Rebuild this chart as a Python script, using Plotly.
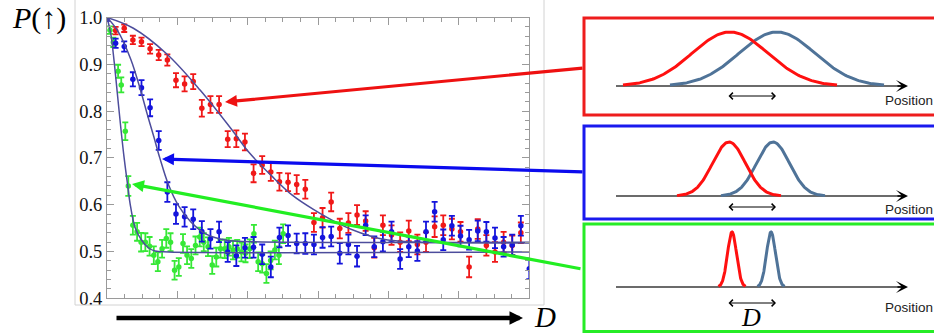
import math
import plotly.graph_objects as go

# ---------------- data ----------------
# x positions in axis units (axis runs 0..24, one minor tick per unit)
step_x = [0.00, 0.49, 0.98, 1.47, 1.96, 2.45, 2.94, 3.43, 3.92, 4.41,
          4.90, 5.39, 5.88, 6.37, 6.86, 7.35, 7.84, 8.33, 8.82, 9.31,
          9.80, 10.29, 10.78, 11.27, 11.76, 12.25, 12.74, 13.23, 13.72, 14.21,
          14.70, 15.19, 15.68, 16.17, 16.66, 17.15, 17.64, 18.13, 18.62, 19.11,
          19.60, 20.09, 20.58, 21.07, 21.56, 22.05, 22.54, 23.03, 23.52, 24.00]

red_x = step_x[1:49]
red_y = [0.972, 0.977, 0.952, 0.948, 0.933, 0.920, 0.909, 0.866, 0.858, 0.863,
         0.806, 0.814, 0.814, 0.740, 0.741, 0.734, 0.667, 0.685, 0.670, 0.649,
         0.648, 0.643, 0.633, 0.562, 0.572, 0.606, 0.549, 0.561, 0.578, 0.565,
         0.508, 0.556, 0.535, 0.520, 0.544, 0.515, 0.520, 0.553, 0.556, 0.548,
         0.542, 0.467, 0.548, 0.513, 0.499, 0.520, 0.513, 0.540]
red_err = [0.008, 0.008, 0.009, 0.009, 0.010, 0.011, 0.012, 0.015, 0.016, 0.016,
           0.018, 0.018, 0.018, 0.017, 0.018, 0.018, 0.019, 0.019, 0.019, 0.019,
           0.019, 0.020, 0.020, 0.020, 0.021, 0.020, 0.021, 0.021, 0.021, 0.021,
           0.021, 0.021, 0.021, 0.021, 0.022, 0.021, 0.021, 0.022, 0.021, 0.022,
           0.021, 0.022, 0.021, 0.022, 0.021, 0.022, 0.021, 0.022]

blue_x = step_x[0:50]
blue_y = [0.997, 0.945, 0.938, 0.868, 0.850, 0.807, 0.737, 0.627, 0.580, 0.574,
          0.569, 0.543, 0.527, 0.542, 0.499, 0.491, 0.508, 0.509, 0.494, 0.467,
          0.530, 0.534, 0.517, 0.517, 0.515, 0.530, 0.532, 0.496, 0.515, 0.490,
          0.556, 0.510, 0.521, 0.542, 0.484, 0.510, 0.501, 0.542, 0.585, 0.525,
          0.555, 0.533, 0.525, 0.544, 0.542, 0.529, 0.510, 0.514, 0.555, 0.463]
blue_err = [0.004, 0.010, 0.011, 0.015, 0.016, 0.018, 0.020, 0.021, 0.021, 0.021,
            0.021, 0.022, 0.021, 0.022, 0.021, 0.022, 0.021, 0.022, 0.021, 0.022,
            0.021, 0.022, 0.021, 0.022, 0.021, 0.022, 0.021, 0.022, 0.021, 0.022,
            0.021, 0.022, 0.021, 0.022, 0.021, 0.022, 0.021, 0.022, 0.021, 0.022,
            0.021, 0.022, 0.021, 0.022, 0.021, 0.022, 0.021, 0.022, 0.021, 0.022]

green_x = [0.17, 0.36, 0.63, 0.81, 1.04, 1.21,
           1.47, 1.71, 1.94, 2.18, 2.42, 2.66, 2.89, 3.13, 3.37, 3.61,
           3.84, 4.08, 4.32, 4.55, 4.79, 5.03, 5.27, 5.50, 5.74, 5.98,
           6.21, 6.45, 6.69, 6.93, 7.16, 7.40, 7.64, 7.87, 8.11, 8.35,
           8.59, 8.82, 9.06, 9.30, 9.54, 9.77, 10.01]
green_y = [0.973, 0.947, 0.885, 0.856, 0.757, 0.640,
           0.556, 0.542, 0.520, 0.520, 0.511, 0.492, 0.478, 0.506, 0.528, 0.520,
           0.460, 0.467, 0.517, 0.492, 0.485, 0.513, 0.531, 0.520, 0.510, 0.471,
           0.488, 0.506, 0.506, 0.510, 0.503, 0.506, 0.499, 0.496, 0.506, 0.538,
           0.478, 0.474, 0.453, 0.481, 0.503, 0.492, 0.538]
green_err = [0.008, 0.010, 0.014, 0.016, 0.019, 0.021,
             0.020, 0.019, 0.020, 0.019, 0.020, 0.019, 0.020, 0.019, 0.020, 0.019,
             0.020, 0.019, 0.020, 0.019, 0.020, 0.019, 0.020, 0.019, 0.020, 0.019,
             0.020, 0.019, 0.020, 0.019, 0.020, 0.019, 0.020, 0.019, 0.020, 0.019,
             0.020, 0.019, 0.020, 0.019, 0.020, 0.019, 0.020]

# fitted curves
red_fit_x = [0, 1.5, 3.4, 5.29, 7.18, 8.04, 9.37, 10.51, 11.73, 13.25, 14.39, 15.72, 17.0, 19.0, 24.0]
red_fit_y = [1.0, 0.977, 0.922, 0.845, 0.756, 0.713, 0.661, 0.621, 0.590, 0.558, 0.540, 0.526, 0.521, 0.519, 0.518]
blue_fit_x = [0, 0.6, 1.35, 1.92, 2.29, 2.67, 3.0, 3.49, 4.06, 4.77, 5.63, 6.8, 8.1, 24.0]
blue_fit_y = [1.0, 0.972, 0.911, 0.843, 0.793, 0.744, 0.700, 0.643, 0.598, 0.563, 0.537, 0.524, 0.521, 0.520]
green_fit_x = [0, 0.21, 0.40, 0.59, 0.78, 0.97, 1.19, 1.31, 1.59, 1.97, 2.35, 2.73, 3.5, 24.0]
green_fit_y = [1.0, 0.966, 0.908, 0.837, 0.766, 0.701, 0.637, 0.603, 0.552, 0.524, 0.508, 0.501, 0.499, 0.499]

y_ticks = [0.4, 0.5, 0.6, 0.7, 0.8, 0.9, 1.0]
y_tick_text = ["0.4", "0.5", "0.6", "0.7", "0.8", "0.9", "1.0"]

# ---------------- styles / layout constants ----------------
W, H = 934, 333
RED, BLUE, GREEN = "#f01818", "#1414dc", "#36e836"
FIT = "#4d4d9c"
AXC = "#9a9a9a"
SERIF = "Liberation Serif, Times New Roman, serif"
SANS = "Liberation Sans, Arial, sans-serif"

fig = go.Figure()


def data_trace(x, y, e, color):
    return go.Scatter(x=x, y=y, mode="markers", xaxis="x", yaxis="y",
                      marker=dict(size=5.5, color=color),
                      error_y=dict(type="data", array=e, visible=True, color=color,
                                   thickness=1.8, width=3),
                      showlegend=False, hoverinfo="skip")


fig.add_trace(data_trace(green_x, green_y, green_err, GREEN))
fig.add_trace(data_trace(red_x, red_y, red_err, RED))
fig.add_trace(data_trace(blue_x, blue_y, blue_err, BLUE))
for fx, fy in [(green_fit_x, green_fit_y), (blue_fit_x, blue_fit_y), (red_fit_x, red_fit_y)]:
    fig.add_trace(go.Scatter(x=fx, y=fy, mode="lines", xaxis="x", yaxis="y",
                             line=dict(color=FIT, width=1.5, shape="spline", smoothing=1.0),
                             showlegend=False, hoverinfo="skip"))

# ---------------- schematic panels (pixel canvas on x2/y2) ----------------
panel_base = [86, 196, 287]
panel_height = [54, 54, 55]
panel_sigma = [38, 16.5, 4.5]
panel_span = [107, 52, 13.5]
panel_red_c = [730, 729, 732]
panel_blue_c = [777, 773, 771]
GAUSS_BLUE = "#4f7398"

for i in range(3):
    for c, col in [(panel_blue_c[i], GAUSS_BLUE), (panel_red_c[i], "#ff1010")]:
        n = 161
        xs = [c - panel_span[i] + 2 * panel_span[i] * k / (n - 1) for k in range(n)]
        ys = [panel_base[i] - panel_height[i] * math.exp(-0.5 * ((xv - c) / panel_sigma[i]) ** 2) for xv in xs]
        fig.add_trace(go.Scatter(x=xs, y=ys, mode="lines", xaxis="x2", yaxis="y2",
                                 line=dict(color=col, width=3), showlegend=False, hoverinfo="skip"))

shapes = []
# light grey image frame around the plot
shapes.append(dict(type="rect", xref="x2", yref="y2", x0=75, x1=544, y0=-5, y1=305,
                   line=dict(color="#d2d2d2", width=1), layer="below"))
# panel boxes
for (y0, y1, col) in [(18, 115, "#ee1c1c"), (126, 219, "#1a1aee"), (224, 331.5, "#26ec26")]:
    shapes.append(dict(type="rect", xref="x2", yref="y2", x0=584, x1=945, y0=y0, y1=y1,
                       line=dict(color=col, width=3)))
# panel position axes (line part)
for yb in panel_base:
    shapes.append(dict(type="line", xref="x2", yref="y2", x0=616, x1=902, y0=yb, y1=yb,
                       line=dict(color="#3a3a3a", width=1.6), layer="below"))

ann = []
# arrowheads of the panel axes
for yb in panel_base:
    ann.append(dict(xref="x2", yref="y2", axref="x2", ayref="y2", x=908, y=yb, ax=896, ay=yb,
                    text="", showarrow=True, arrowhead=3, arrowsize=1.25, arrowwidth=1.6,
                    arrowcolor="#000000"))
# double arrows for D
for yd in [96, 207, 303]:
    ann.append(dict(xref="x2", yref="y2", axref="x2", ayref="y2", x=776, y=yd, ax=727, ay=yd,
                    text="", showarrow=True, arrowside="end+start", arrowhead=4, startarrowhead=4,
                    arrowsize=1.3, startarrowsize=1.3, arrowwidth=1, arrowcolor="#000000"))
# "Position" labels
for yp in [100, 209, 307]:
    ann.append(dict(xref="x2", yref="y2", x=883, y=yp, xanchor="left", yanchor="middle",
                    text="Position", showarrow=False, font=dict(family=SANS, size=13.5, color="#222222")))
# D under the last panel
ann.append(dict(xref="x2", yref="y2", x=751, y=317, text="<i>D</i>", showarrow=False,
                font=dict(family=SERIF, size=26, color="#000000")))
# arrows from panels to the data
for (hx, hy, tx, ty, col) in [(225, 102, 584, 68, "#ee1111"),
                              (162, 159, 584, 172, "#0b0bee"),
                              (132, 184, 582, 269, "#22ee22")]:
    ann.append(dict(xref="x2", yref="y2", axref="x2", ayref="y2", x=hx, y=hy, ax=tx, ay=ty,
                    text="", showarrow=True, arrowhead=2, arrowsize=0.75, arrowwidth=3.2,
                    arrowcolor=col))
# big D arrow under the x axis
ann.append(dict(xref="x2", yref="y2", axref="x2", ayref="y2", x=523, y=318, ax=115, ay=318,
                text="", showarrow=True, arrowhead=2, arrowsize=0.6, arrowwidth=4.5,
                arrowcolor="#000000"))
ann.append(dict(xref="x2", yref="y2", x=545, y=317, text="<i>D</i>", showarrow=False,
                font=dict(family=SERIF, size=29, color="#000000")))
# y-axis title
ann.append(dict(xref="x2", yref="y2", x=39, y=18, text="<i>P</i>(↑)", showarrow=False,
                font=dict(family=SERIF, size=30, color="#000000")))

fig.update_layout(
    template="none",
    width=W, height=H, margin=dict(l=0, r=0, t=0, b=0, pad=0, autoexpand=False),
    paper_bgcolor="white", plot_bgcolor="rgba(0,0,0,0)",
    showlegend=False,
    xaxis=dict(domain=[107 / W, 529.3 / W], range=[0, 24], anchor="y", automargin=False,
               tick0=0, dtick=4, ticks="inside", ticklen=7, tickcolor=AXC, tickwidth=1,
               showticklabels=False, showgrid=False, zeroline=False,
               showline=True, linecolor=AXC, linewidth=1, mirror="ticks",
               minor=dict(dtick=1, ticks="inside", ticklen=4, tickcolor=AXC, showgrid=False)),
    yaxis=dict(domain=[1 - 298.3 / H, 1 - 17.5 / H], range=[0.4, 1.0], anchor="x", automargin=False,
               tickmode="array", tickvals=y_ticks, ticktext=y_tick_text,
               ticks="inside", ticklen=7, tickcolor=AXC, tickwidth=1,
               tickfont=dict(family=SERIF, size=18.5, color="#111111"),
               showgrid=False, zeroline=False,
               showline=True, linecolor=AXC, linewidth=1, mirror="ticks",
               minor=dict(dtick=0.02, tick0=0.4, ticks="inside", ticklen=4, tickcolor=AXC, showgrid=False)),
    xaxis2=dict(domain=[0, 1], range=[0, W], anchor="y2", visible=False, fixedrange=True, automargin=False),
    yaxis2=dict(domain=[0, 1], range=[H, 0], anchor="x2", visible=False, fixedrange=True, automargin=False),
    shapes=shapes, annotations=ann,
)

fig.write_html(
    "out.html",
    config={"displayModeBar": False, "responsive": False},
    post_script="document.documentElement.style.margin='0';document.body.style.margin='0';"
                "document.body.style.padding='0';document.body.style.overflow='hidden';",
)
